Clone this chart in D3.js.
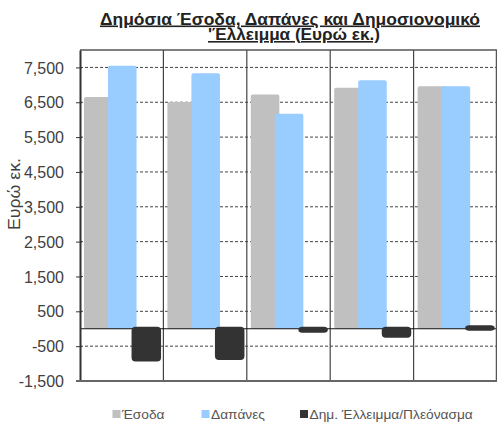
<!DOCTYPE html>
<html><head><meta charset="utf-8">
<script src="https://cdn.jsdelivr.net/npm/d3@7"></script>
<style>body{margin:0;background:#fff}svg{display:block}</style>
</head><body>
<svg id="c" width="497" height="426"></svg>
<script>
const categories = ["1","2","3","4","5"];
const seriesNames = ["Έσοδα","Δαπάνες","Δημ. Έλλειμμα/Πλεόνασμα"];
const revenue = [6650, 6510, 6720, 6920, 6960];
const expenditure = [7550, 7330, 6170, 7130, 6960];
const balance = [-880, -840, -60, -200, 40];
const tickValues = [-1500, -500, 500, 1500, 2500, 3500, 4500, 5500, 6500, 7500];
const colors = ["#C0C0C0", "#99CCFF", "#333333"];

const FONT = "Liberation Sans, Arial, sans-serif";
const svg = d3.select("#c");
const L = 80, R = 497, T = 50, B = 381;
const x = d3.scaleBand().domain(categories).range([L, R]).padding(0);
const y = d3.scaleLinear().domain([-1500, 8000]).range([B, T]);
const bw = x.bandwidth();

// title
const title = svg.append("text").attr("text-anchor", "middle")
  .attr("font-family", FONT).attr("font-weight", "bold")
  .attr("font-size", 16).attr("fill", "#222").attr("text-decoration", "underline");
title.append("tspan").attr("x", 290).attr("y", 24.5).attr("textLength", 380).attr("lengthAdjust", "spacingAndGlyphs")
  .text("Δημόσια Έσοδα, Δαπάνες και Δημοσιονομικό");
title.append("tspan").attr("x", 294).attr("y", 40).attr("textLength", 172).attr("lengthAdjust", "spacingAndGlyphs")
  .text("'Έλλειμμα (Ευρώ εκ.)");

// gridlines
svg.append("g").selectAll("line").data(tickValues.filter(v => v > -1500)).join("line")
  .attr("x1", L).attr("x2", R).attr("y1", d => y(d)).attr("y2", d => y(d))
  .attr("stroke", "#444").attr("stroke-width", 1).attr("stroke-dasharray", "3,2");

// bars
const series = [revenue, expenditure];
const off0 = 0.048 * bw, step = 0.288 * bw, w = 0.342 * bw;
series.forEach((arr, i) => {
  svg.append("g").selectAll("rect").data(arr).join("rect")
    .attr("x", (d, j) => x(categories[j]) + off0 + i * step)
    .attr("width", w)
    .attr("y", d => y(Math.max(0, d)))
    .attr("height", d => Math.abs(y(d) - y(0)))
    .attr("rx", 2)
    .attr("fill", colors[i]);
});

// category separators
svg.append("g").selectAll("line").data(categories.slice(1)).join("line")
  .attr("x1", d => x(d)).attr("x2", d => x(d)).attr("y1", T).attr("y2", B)
  .attr("stroke", "#444").attr("stroke-width", 1.2);

// zero line
svg.append("line").attr("x1", L).attr("x2", R).attr("y1", y(0)).attr("y2", y(0))
  .attr("stroke", "#111").attr("stroke-width", 1.2);

// balance bars
svg.append("g").selectAll("rect").data(balance).join("rect")
  .attr("x", (d, j) => x(categories[j]) + off0 + 2 * step + 1.5)
  .attr("width", w - 3)
  .attr("y", d => Math.min(y(d), y(0)))
  .attr("height", d => Math.abs(y(d) - y(0)))
  .attr("rx", 2)
  .attr("fill", colors[2]).attr("stroke", colors[2]).attr("stroke-width", 4).attr("stroke-linejoin", "round");

// frame
svg.append("line").attr("x1", L).attr("x2", R).attr("y1", T).attr("y2", T).attr("stroke", "#555").attr("stroke-width", 1.5);
svg.append("line").attr("x1", R - 0.5).attr("x2", R - 0.5).attr("y1", T).attr("y2", B).attr("stroke", "#555").attr("stroke-width", 1.5);

// y axis
const fmt = d3.format(",");
const yAxis = d3.axisLeft(y).tickValues(tickValues).tickFormat(d => fmt(d).replace("\u2212", "-")).tickSize(4).tickSizeOuter(0);
const ga = svg.append("g").attr("transform", `translate(${L},0)`).call(yAxis);
ga.select(".domain").attr("stroke", "#333").attr("stroke-width", 2);
ga.selectAll(".tick line").attr("stroke", "#333").attr("x2", 2).attr("x1", -4);
ga.selectAll(".tick text").attr("font-family", FONT)
  .attr("font-size", 16).attr("fill", "#404040").attr("x", -16).attr("dy", "0.35em");

// bottom axis
svg.append("line").attr("x1", L - 4).attr("x2", R).attr("y1", B).attr("y2", B).attr("stroke", "#666").attr("stroke-width", 2);

// y axis title
svg.append("text").attr("transform", "translate(20,194) rotate(-90)").attr("text-anchor", "middle")
  .attr("font-family", FONT).attr("font-size", 17).attr("fill", "#404040")
  .attr("textLength", 72).attr("lengthAdjust", "spacingAndGlyphs")
  .text("Ευρώ εκ.");

// legend
const legX = [112.5, 201.5, 300];
const lg = svg.append("g").selectAll("g").data(seriesNames).join("g")
  .attr("transform", (d, i) => `translate(${legX[i]},410)`);
lg.append("rect").attr("width", 8).attr("height", 8).attr("fill", (d, i) => colors[i]);
lg.append("text").attr("transform", "translate(9.5,8.5) scale(1.1,1)").attr("font-family", FONT)
  .attr("font-size", 12.5).attr("fill", "#555").text(d => d);
</script>
</body></html>
